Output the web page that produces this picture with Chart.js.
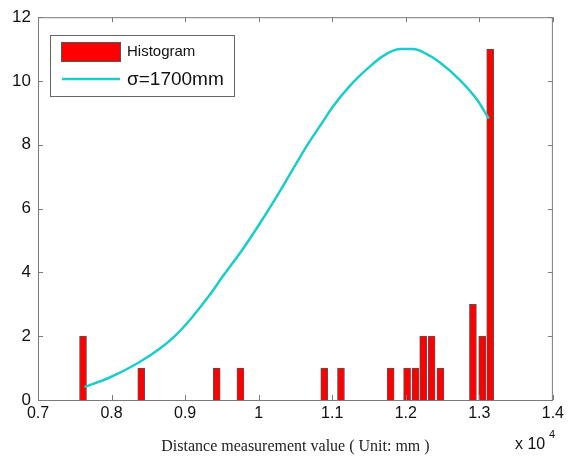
<!DOCTYPE html>
<html>
<head>
<meta charset="utf-8">
<script src="https://cdn.jsdelivr.net/npm/chart.js@4.4.1/dist/chart.umd.min.js"></script>
<style>
  html, body { margin: 0; padding: 0; background: #fff; }
  #wrap { width: 568px; height: 460px; position: relative; }
</style>
</head>
<body>
<div id="wrap"><canvas id="grafico"></canvas></div>
<script>
// x values are in units of 10^4 mm
const binCenters = [0.7612, 0.8404, 0.9429, 0.9752, 1.0892, 1.1119, 1.1794, 1.2018,
                    1.2131, 1.2237, 1.2351, 1.2471, 1.2913, 1.3039, 1.3148];
const binCounts  = [2, 1, 1, 1, 1, 1, 1, 1, 1, 2, 2, 1, 3, 2, 11];

const curveX = [0.763, 0.796, 0.836, 0.864, 0.886, 0.909, 0.932, 0.952, 0.979, 1.002,
                1.029, 1.047, 1.065, 1.088, 1.101, 1.124, 1.151, 1.169, 1.192, 1.210,
                1.224, 1.246, 1.274, 1.296, 1.313];
const curveY = [0.41, 0.69, 1.16, 1.58, 2.00, 2.58, 3.25, 3.90, 4.75, 5.55,
                6.55, 7.25, 7.95, 8.75, 9.20, 9.85, 10.45, 10.78, 11.00, 11.00,
                10.90, 10.59, 10.02, 9.44, 8.82];

const xTicks = [0.7, 0.8, 0.9, 1.0, 1.1, 1.2, 1.3, 1.4];
const yTicks = [0, 2, 4, 6, 8, 10, 12];

const legendLabels = ['Histogram', 'σ=1700mm'];
const xTitle = 'Distance measurement value ( Unit: mm )';

const RED = '#ff0000';
const CYAN = '#1ccccc';
const AXIS = '#7a7a7a';
const SANS = '"Liberation Sans", Arial, sans-serif';

window.addEventListener('load', function() {

    // MATLAB-style box, inward ticks, legend and exponent label
    const matlabLook = {
        id: 'matlabLook',
        afterDraw(chart) {
            const ctx = chart.ctx;
            const a = chart.chartArea;
            const xs = chart.scales.x;
            const ys = chart.scales.y;
            ctx.save();
            ctx.strokeStyle = AXIS;
            ctx.lineWidth = 1;
            ctx.strokeRect(a.left + 0.5, a.top + 0.5, a.right - a.left - 1, a.bottom - a.top);

            ctx.beginPath();
            xTicks.forEach(v => {
                const px = Math.round(xs.getPixelForValue(v)) + 0.5;
                ctx.moveTo(px, a.bottom); ctx.lineTo(px, a.bottom - 5);
                ctx.moveTo(px, a.top); ctx.lineTo(px, a.top + 5);
            });
            yTicks.forEach(v => {
                const py = Math.round(ys.getPixelForValue(v)) + 0.5;
                ctx.moveTo(a.left, py); ctx.lineTo(a.left + 5, py);
                ctx.moveTo(a.right, py); ctx.lineTo(a.right - 5, py);
            });
            ctx.stroke();

            // legend
            ctx.fillStyle = '#fff';
            ctx.fillRect(50, 35, 184, 61);
            ctx.strokeStyle = '#666';
            ctx.strokeRect(50.5, 35.5, 184, 61);
            ctx.fillStyle = RED;
            ctx.fillRect(61, 42, 60, 20);
            ctx.strokeStyle = '#555';
            ctx.strokeRect(61.5, 42.5, 59, 19);
            ctx.strokeStyle = CYAN;
            ctx.lineWidth = 2.5;
            ctx.beginPath();
            ctx.moveTo(62, 79); ctx.lineTo(120, 79);
            ctx.stroke();
            ctx.fillStyle = '#111';
            ctx.textBaseline = 'middle';
            ctx.textAlign = 'left';
            ctx.font = '15px ' + SANS;
            ctx.fillText(legendLabels[0], 127, 52);
            ctx.font = '19px ' + SANS;
            ctx.fillText(legendLabels[1], 127, 80);

            // exponent
            ctx.font = '16px ' + SANS;
            ctx.fillText('x 10', 515, 445);
            ctx.font = '11px ' + SANS;
            ctx.fillText('4', 549, 435);
            ctx.restore();
        }
    };

    const ctx = document.getElementById('grafico').getContext('2d');
    new Chart(ctx, {
        type: 'bar',
        data: {
            datasets: [
                {
                    type: 'bar',
                    label: legendLabels[0],
                    data: binCenters.map((x, i) => ({ x: x, y: binCounts[i] })),
                    backgroundColor: RED,
                    borderColor: '#555',
                    borderWidth: 1,
                    barThickness: 7,
                    order: 2
                },
                {
                    type: 'line',
                    label: legendLabels[1],
                    data: curveX.map((x, i) => ({ x: x, y: curveY[i] })),
                    borderColor: CYAN,
                    borderWidth: 2.5,
                    pointRadius: 0,
                    cubicInterpolationMode: 'monotone',
                    fill: false,
                    order: 1
                }
            ]
        },
        options: {
            responsive: true,
            maintainAspectRatio: false,
            animation: false,
            layout: { padding: { top: 17, right: 15, left: 0, bottom: 0 } },
            plugins: {
                legend: { display: false },
                tooltip: { enabled: false }
            },
            scales: {
                x: {
                    type: 'linear',
                    offset: false,
                    min: 0.7,
                    max: 1.4,
                    grid: { display: false, offset: false, drawTicks: false },
                    border: { display: false },
                    afterBuildTicks: s => { s.ticks = xTicks.map(v => ({ value: v })); },
                    afterFit: s => { s.height = 60; },
                    ticks: {
                        padding: 4,
                        color: '#111',
                        font: { family: SANS, size: 16 },
                        callback: v => String(Number(v.toFixed(1)))
                    },
                    title: {
                        display: true,
                        text: xTitle,
                        color: '#222',
                        font: { family: '"Liberation Serif", "Times New Roman", serif', size: 16 },
                        padding: { top: 3, left: 0, right: 14 }
                    }
                },
                y: {
                    min: 0,
                    max: 12,
                    grid: { display: false, drawTicks: false },
                    border: { display: false },
                    afterBuildTicks: s => { s.ticks = yTicks.map(v => ({ value: v })); },
                    afterFit: s => { s.width = 38; },
                    ticks: {
                        padding: 7,
                        color: '#111',
                        font: { family: SANS, size: 17 }
                    }
                }
            }
        },
        plugins: [matlabLook]
    });
});
</script>
</body>
</html>
